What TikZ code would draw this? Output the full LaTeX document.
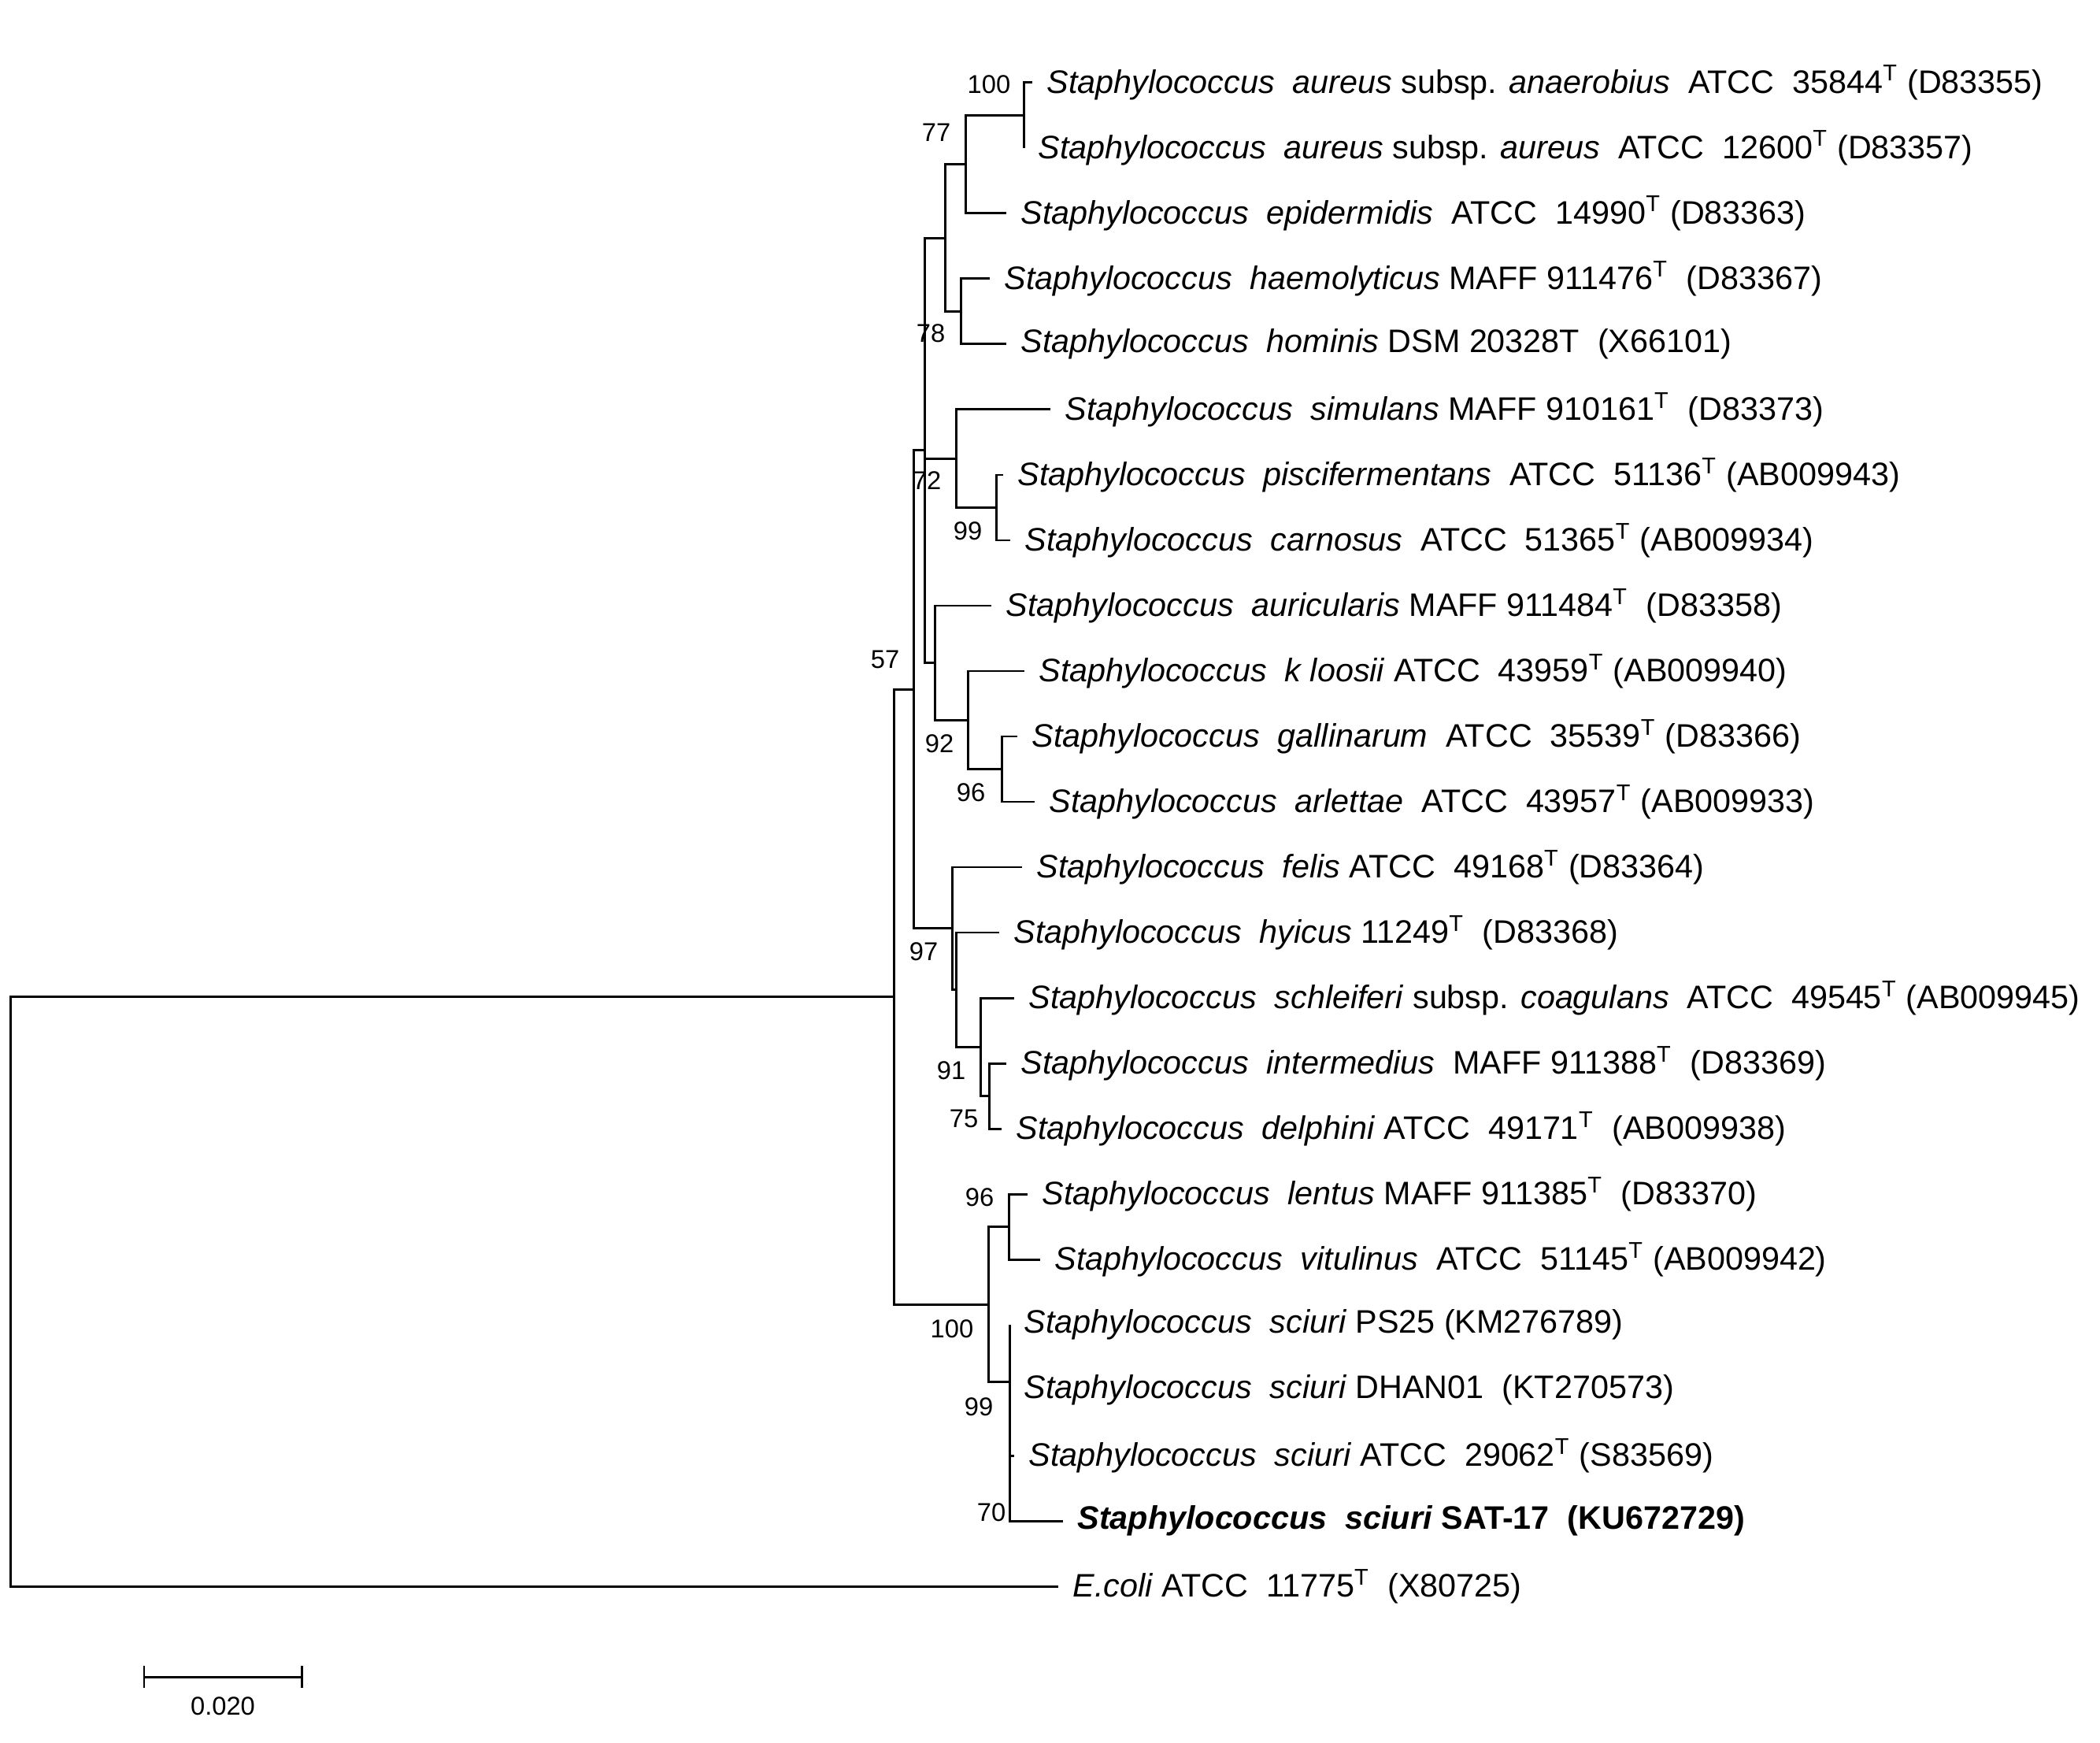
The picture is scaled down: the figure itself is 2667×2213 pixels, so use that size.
\documentclass[tikz,border=0pt]{standalone}
\usepackage{fontspec}
\setmainfont{Liberation Sans}
\newcommand{\staph}{\textit{Staphylococcus}~~}
\newcommand{\typ}{\textsuperscript{T}}

\begin{document}
\begin{tikzpicture}[x=0.01cm,y=-0.01cm,line width=0.85pt,
  taxon/.style={anchor=west,inner xsep=0.17cm,inner ysep=0pt,font=\fontsize{11.75}{14}\selectfont},
  boot/.style={inner sep=0pt,font=\fontsize{9.3}{11}\selectfont}]
\useasboundingbox (0,0) rectangle (2667,2213);

% taxa (one row every 83 units)
\node[taxon] (t1) at (1311,105) {\staph\textit{aureus} subsp. \textit{anaerobius}~~ATCC~~35844\typ{} (D83355)};
\node[taxon] (t2) at (1300,188) {\staph\textit{aureus} subsp. \textit{aureus}~~ATCC~~12600\typ{} (D83357)};
\node[taxon] (t3) at (1278,271) {\staph\textit{epidermidis}~~ATCC~~14990\typ{} (D83363)};
\node[taxon] (t4) at (1257,354) {\staph\textit{haemolyticus} MAFF 911476\typ~~(D83367)};
\node[taxon] (t5) at (1278,437) {\staph\textit{hominis} DSM 20328T~~(X66101)};
\node[taxon] (t6) at (1334,520) {\staph\textit{simulans} MAFF 910161\typ~~(D83373)};
\node[taxon] (t7) at (1274,603) {\staph\textit{piscifermentans}~~ATCC~~51136\typ{} (AB009943)};
\node[taxon] (t8) at (1283,686) {\staph\textit{carnosus}~~ATCC~~51365\typ{} (AB009934)};
\node[taxon] (t9) at (1259,769) {\staph\textit{auricularis} MAFF 911484\typ~~(D83358)};
\node[taxon] (t10) at (1301,852) {\staph\textit{k loosii} ATCC~~43959\typ{} (AB009940)};
\node[taxon] (t11) at (1292,935) {\staph\textit{gallinarum}~~ATCC~~35539\typ{} (D83366)};
\node[taxon] (t12) at (1314,1018) {\staph\textit{arlettae}~~ATCC~~43957\typ{} (AB009933)};
\node[taxon] (t13) at (1298,1101) {\staph\textit{felis} ATCC~~49168\typ{} (D83364)};
\node[taxon] (t14) at (1269,1184) {\staph\textit{hyicus} 11249\typ~~(D83368)};
\node[taxon] (t15) at (1288,1267) {\staph\textit{schleiferi} subsp. \textit{coagulans}~~ATCC~~49545\typ{} (AB009945)};
\node[taxon] (t16) at (1278,1350) {\staph\textit{intermedius}~~MAFF 911388\typ~~(D83369)};
\node[taxon] (t17) at (1272,1433) {\staph\textit{delphini} ATCC~~49171\typ~~(AB009938)};
\node[taxon] (t18) at (1305,1516) {\staph\textit{lentus} MAFF 911385\typ~~(D83370)};
\node[taxon] (t19) at (1321,1599) {\staph\textit{vitulinus}~~ATCC~~51145\typ{} (AB009942)};
\node[taxon] (t20) at (1282,1682) {\staph\textit{sciuri} PS25 (KM276789)};
\node[taxon] (t21) at (1282,1765) {\staph\textit{sciuri} DHAN01~~(KT270573)};
\node[taxon] (t22) at (1288,1848) {\staph\textit{sciuri} ATCC~~29062\typ{} (S83569)};
\node[taxon] (t23) at (1350,1931) {\textbf{\textit{Staphylococcus}~~\textit{sciuri} SAT-17~~(KU672729)}};
\node[taxon] (t24) at (1344,2014) {\textit{E.coli} ATCC~~11775\typ~~(X80725)};

% internal nodes
\coordinate (nA) at (1300,146.5);
\coordinate (nB) at (1226,208.8);
\coordinate (nD) at (1220,395.5);
\coordinate (nC) at (1200,302.1);
\coordinate (nJ) at (1265,644.5);
\coordinate (nF) at (1214,582.3);
\coordinate (nM) at (1272,976.5);
\coordinate (nL) at (1229.5,914.3);
\coordinate (nI) at (1187,841.6);
\coordinate (nE) at (1174,571.9);
\coordinate (nP) at (1256,1391.5);
\coordinate (nO) at (1245,1329.3);
\coordinate (nKb) at (1214,1256.6);
\coordinate (nK) at (1209,1178.8);
\coordinate (nG) at (1160,875.3);
\coordinate (nT) at (1282,1889.5);
\coordinate (nS2) at (1282,1827.3);
\coordinate (nS) at (1282,1754.6);
\coordinate (nR) at (1281,1557.5);
\coordinate (nQ) at (1255,1656);
\coordinate (n57) at (1135,1265.7);
\coordinate (root) at (13.5,1640);

% branches
\draw (nA) |- (t1.west) (nA) |- (t2.west);
\draw (nB) |- (nA) (nB) |- (t3.west);
\draw (nD) |- (t4.west) (nD) |- (t5.west);
\draw (nC) |- (nB) (nC) |- (nD);
\draw (nJ) |- (t7.west) (nJ) |- (t8.west);
\draw (nF) |- (t6.west) (nF) |- (nJ);
\draw (nM) |- (t11.west) (nM) |- (t12.west);
\draw (nL) |- (t10.west) (nL) |- (nM);
\draw (nI) |- (t9.west) (nI) |- (nL);
\draw (nE) |- (nC) (nE) |- (nF) (nE) |- (nI);
\draw (nP) |- (t16.west) (nP) |- (t17.west);
\draw (nO) |- (t15.west) (nO) |- (nP);
\draw (nKb) |- (t14.west) (nKb) |- (nO);
\draw (nK) |- (t13.west) (nK) |- (nKb);
\draw (nG) |- (nE) (nG) |- (nK);
\draw (nT) |- (t22.west) (nT) |- (t23.west);
\draw (nS2) |- (t21.west) (nS2) |- (nT);
\draw (nS) |- (t20.west) (nS) |- (nS2);
\draw (nR) |- (t18.west) (nR) |- (t19.west);
\draw (nQ) |- (nR) (nQ) |- (nS);
\draw (n57) |- (nG) (n57) |- (nQ);
\draw (root) |- (n57) (root) |- (t24.west);

% bootstrap values
\node[boot] (b1) at (1256,107) {100};
\node[boot] (b2) at (1189,168) {77};
\node[boot] (b3) at (1182,423) {78};
\node[boot] (b4) at (1177,610) {72};
\node[boot] (b5) at (1229,674) {99};
\node[boot] (b6) at (1124,837) {57};
\node[boot] (b7) at (1193,944) {92};
\node[boot] (b8) at (1233,1006) {96};
\node[boot] (b9) at (1173,1208) {97};
\node[boot] (b10) at (1208,1359) {91};
\node[boot] (b11) at (1224,1420) {75};
\node[boot] (b12) at (1244,1520) {96};
\node[boot] (b13) at (1209,1687) {100};
\node[boot] (b14) at (1243,1786) {99};
\node[boot] (b15) at (1259,1920) {70};

% scale bar
\coordinate (sb1) at (183,2129);
\coordinate (sb2) at (383,2129);
\draw (sb1) -- (sb2);
\draw ([yshift=0.14cm]sb1) -- ([yshift=-0.14cm]sb1);
\draw ([yshift=0.14cm]sb2) -- ([yshift=-0.14cm]sb2);
\node[boot] (sblabel) at (283,2166) {0.020};
\end{tikzpicture}
\end{document}
